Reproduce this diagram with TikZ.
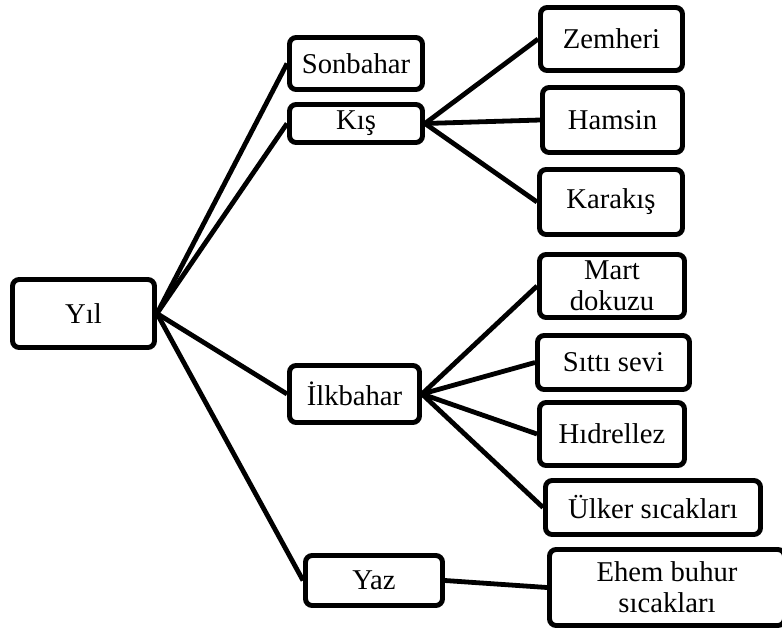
\documentclass[tikz,border=0pt]{standalone}
\usepackage{fontspec}
\setmainfont{Liberation Serif}
\usetikzlibrary{positioning}
\newcommand{\boxfont}{\fontsize{21.5}{23}\selectfont}
\tikzset{
  mevsim/.style={draw, line width=3.7pt, rounded corners=5pt, fill=white,
    align=center, inner sep=0pt, font=\boxfont},
  bag/.style={line width=3.6pt}
}

\begin{document}
\begin{tikzpicture}[x=0.75pt, y=-0.75pt]
			%%%%% START %%%%%
			\useasboundingbox (0, 0) rectangle (782, 633);
			\clip (0, 0) rectangle (782, 633);
			
			\node[mevsim, minimum width=142*0.75pt, minimum height=68*0.75pt] (yil) at (83.5, 313.5) {Y\i l};
			
			\node[mevsim, minimum width=133*0.75pt, minimum height=52*0.75pt] (sonbahar) at (356, 63.5) {Sonbahar};
			\node[mevsim, minimum width=133*0.75pt, minimum height=38*0.75pt] (kis) at (356, 123.5) {K\i ş};
			\node[mevsim, minimum width=130*0.75pt, minimum height=57*0.75pt] (ilkbahar) at (354.5, 394) {İlkbahar};
			\node[mevsim, minimum width=137*0.75pt, minimum height=50*0.75pt] (yaz) at (374, 580.5) {Yaz};
			
			\node[mevsim, minimum width=142*0.75pt, minimum height=63*0.75pt] (zemheri) at (611.5, 39) {Zemheri};
			\node[mevsim, minimum width=140*0.75pt, minimum height=65*0.75pt] (hamsin) at (612.5, 120) {Hamsin};
			\node[mevsim, minimum width=143*0.75pt, minimum height=65*0.75pt] (karakis) at (611, 202) {Karak\i ş};
			
			\node[mevsim, minimum width=145*0.75pt, minimum height=63*0.75pt] (mart) at (612, 286) {Mart\\dokuzu};
			\node[mevsim, minimum width=152*0.75pt, minimum height=54*0.75pt] (sitti) at (613.5, 362.5) {S\i tt\i{} sevi};
			\node[mevsim, minimum width=145*0.75pt, minimum height=63*0.75pt] (hidrellez) at (612, 434) {H\i drellez};
			\node[mevsim, minimum width=215*0.75pt, minimum height=54*0.75pt] (ulker) at (653, 507.5) {Ülker s\i caklar\i};
			
			\node[mevsim, minimum width=235*0.75pt, minimum height=76*0.75pt] (ehem) at (667, 587.5) {Ehem buhur\\s\i caklar\i};
			
			\draw[bag] (yil.east) -- (sonbahar.west);
			\draw[bag] (yil.east) -- (kis.west);
			\draw[bag] (yil.east) -- (ilkbahar.west);
			\draw[bag] (yil.east) -- (yaz.west);
			
			\draw[bag] (kis.east) -- (zemheri.west);
			\draw[bag] (kis.east) -- (hamsin.west);
			\draw[bag] (kis.east) -- (karakis.west);
			
			\draw[bag] (ilkbahar.east) -- (mart.west);
			\draw[bag] (ilkbahar.east) -- (sitti.west);
			\draw[bag] (ilkbahar.east) -- (hidrellez.west);
			\draw[bag] (ilkbahar.east) -- (ulker.west);
			
			\draw[bag] (yaz.east) -- (ehem.west);
			
			%%%%% END %%%%%
		\end{tikzpicture}
\end{document}
